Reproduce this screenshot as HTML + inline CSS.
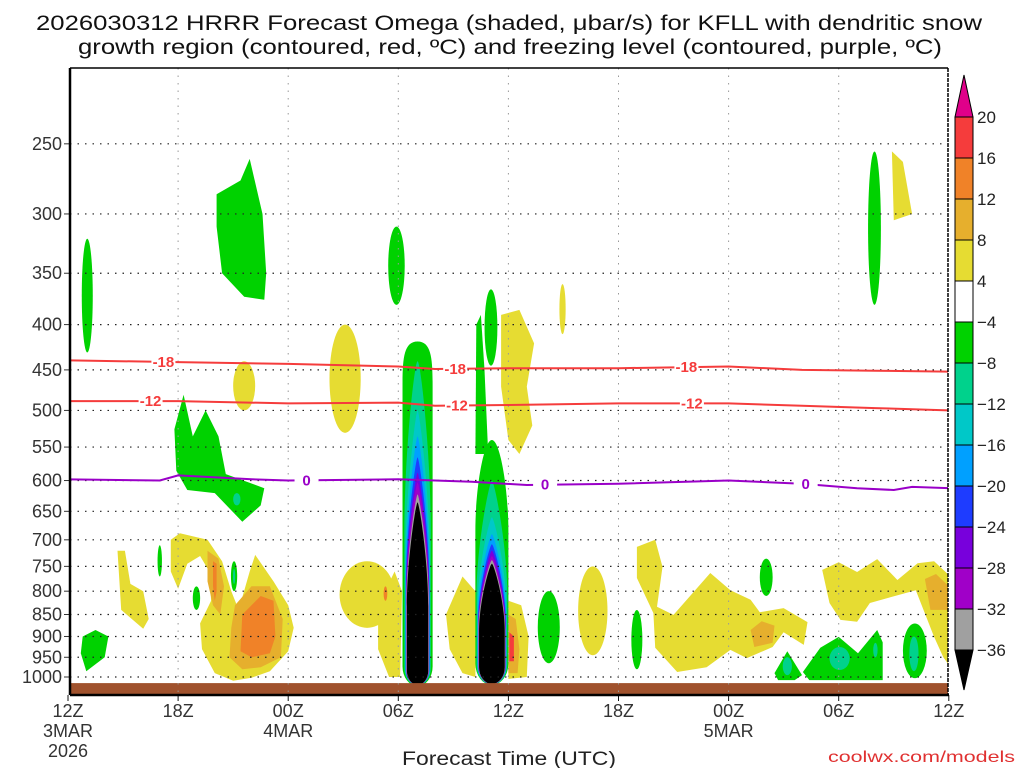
<!DOCTYPE html>
<html><head><meta charset="utf-8"><style>
body{margin:0;background:#fff;}
svg{display:block;font-family:"Liberation Sans",sans-serif;}
</style></head><body>
<svg id="chart" width="1024" height="768" viewBox="0 0 1024 768">
<text x="509" y="30" text-anchor="middle" font-size="21" fill="#111" textLength="946" lengthAdjust="spacingAndGlyphs">2026030312 HRRR Forecast Omega (shaded, μbar/s) for KFLL with dendritic snow</text>
<text x="510" y="54" text-anchor="middle" font-size="21" fill="#111" textLength="864" lengthAdjust="spacingAndGlyphs">growth region (contoured, red, ºC) and freezing level (contoured, purple, ºC)</text>
<g id="fields"></g>
<g id="grid"></g>
<g id="contours"></g>
<g id="axes"></g>
<g id="cbar"></g>
<text x="509" y="765" text-anchor="middle" font-size="19" fill="#222" textLength="214" lengthAdjust="spacingAndGlyphs">Forecast Time (UTC)</text>
<text x="1015" y="762" text-anchor="end" font-size="16" fill="#e03030" textLength="187" lengthAdjust="spacingAndGlyphs">coolwx.com/models</text>
</svg>
<script>
// ---- data ----
const pressureTicks=[250,300,350,400,450,500,550,600,650,700,750,800,850,900,950,1000];
const timeTicks=[0,6,12,18,24,30,36,42,48];
const timeLabels=["12Z","18Z","00Z","06Z","12Z","18Z","00Z","06Z","12Z"];
const dateLabels={0:["3MAR","2026"],12:["4MAR"],36:["5MAR"]};
const cbarLevels=["20","16","12","8","4","−4","−8","−12","−16","−20","−24","−28","−32","−36"];
const cbarColors=["#f53c3c","#f08228","#e6af2d","#e6dc32","#ffffff","#00d200","#00d28c","#00c8c8","#00a0ff","#1e3cff","#7800dc","#a000c8","#a0a0a0"];
const levelColor={y:"#e6dc32",g:"#e6af2d",o:"#f08228",r:"#f53c3c",G:"#00d200",T:"#00d28c",C:"#00c8c8",S:"#00a0ff",B:"#1e3cff",P:"#7800dc",V:"#a000c8",A:"#a0a0a0",K:"#000000"};
// contour lines: [hour, pressure]
const iso18=[[0,439],[6,441],[12,443],[18,446],[20,449],[24,448],[30,448],[36,446],[40,450],[44,451],[48,452]];
const iso12=[[0,488],[6,488],[12,491],[18,490],[20,494],[24,493],[30,491],[36,491],[40,494],[44,497],[48,500]];
const iso0=[[0,598],[5,600],[6,592],[10,598],[12,600],[18,598],[22,602],[25,607],[30,605],[36,600],[40,605],[43,612],[45,615],[46,610],[48,612]];
const label18=[5.2,21.1,33.7], label12=[4.5,21.2,34.0], label0=[13,26,40.2];
// ellipse blobs: [level, centerHour, topP, botP, halfWidthHours]
const ellipses=[
["G",1.05,320,430,0.3],["G",17.9,310,380,0.45],["y",15.1,400,530,0.85],["y",9.6,440,500,0.6],
["y",26.95,360,410,0.17],["G",23.05,365,445,0.35],["G",43.95,255,380,0.35],
["G",5.0,710,770,0.12],["G",7.0,790,840,0.2],["G",9.05,740,800,0.17],["T",9.05,755,785,0.06],
["G",26.2,800,965,0.6],["y",28.6,750,945,0.8],["G",31.0,840,980,0.3],["G",38.05,735,810,0.35],
["G",46.15,870,1003,0.65],["T",46.1,900,985,0.25],["y",16.3,740,880,1.5],["o",17.3,790,820,0.1],
["T",39.2,950,995,0.25],["T",42.05,925,982,0.55],["T",44.0,915,950,0.12],["G",9.2,610,650,0.5],["T",9.2,620,640,0.2]
];
// polygon blobs: [level, [[hour,p],...]]
const polys=[
["y",[[23.6,390],[24.6,385],[25.4,420],[25.0,470],[25.3,520],[24.6,560],[24.0,540],[23.6,470]]],
["y",[[44.9,255],[45.5,262],[46.0,300],[45.0,305]]],
["G",[[8.1,285],[9.4,275],[9.9,260],[10.6,300],[10.8,350],[10.7,375],[9.6,372],[8.4,350],[8.1,310]]],
["G",[[5.8,525],[6.3,480],[6.8,535],[7.5,500],[8.2,535],[8.6,590],[10.7,612],[10.5,640],[9.5,668],[8.0,620],[6.5,615],[5.9,585]]],
["y",[[2.7,720],[3.1,720],[3.4,785],[4.1,800],[4.4,860],[4.1,882],[2.9,840]]],
["G",[[0.8,900],[1.5,885],[2.2,900],[2.0,950],[1.0,985],[0.7,940]]],
["y",[[5.6,700],[6.1,688],[7.6,700],[8.4,740],[8.9,800],[9.3,840],[9.9,760],[10.2,728],[11.2,780],[12,830],[12.3,880],[12,935],[11,985],[10,1002],[9,1010],[8,990],[7.3,930],[7.2,870],[7.8,820],[7.7,760],[7.2,730],[6.5,745],[6.0,795],[5.6,760]]],
["g",[[7.6,720],[8.2,735],[8.5,790],[8.3,850],[7.9,830],[7.6,780]]],
["g",[[9.1,830],[10.0,790],[11.0,790],[11.7,860],[11.6,950],[10.5,975],[9.5,980],[8.8,950],[8.9,880]]],
["o",[[7.9,740],[8.1,745],[8.1,800],[8.0,820],[7.9,790]]],
["o",[[9.5,850],[10.5,810],[11.2,820],[11.3,900],[11.0,940],[10.0,950],[9.4,935]]],
["y",[[16.9,830],[17.8,760],[18.2,800],[18.1,1000],[17.5,1000],[16.9,930]]],
["y",[[20.6,850],[21.5,770],[22.2,800],[22.2,1000],[21.5,990],[20.8,930]]],
["y",[[24.0,820],[24.7,830],[25.1,900],[25.0,1000],[24.0,1005]]],
["g",[[24.0,850],[24.4,860],[24.6,930],[24.5,990],[24.0,990]]],
["r",[[24.05,890],[24.3,900],[24.3,960],[24.05,960]]],
["y",[[31,713],[32,700],[32.4,751],[32.1,833],[33,851],[35,763],[36.1,798],[37.2,818],[37.7,845],[39,836],[40.3,867],[40.1,920],[39,890],[38.4,925],[37,952],[36.1,932],[34.8,975],[33.2,987],[32,927],[31.9,847],[31,773]]],
["g",[[37.2,885],[37.8,865],[38.5,875],[38.4,915],[37.4,925]]],
["G",[[38.5,990],[39.2,935],[40.0,995],[39.6,1008],[38.7,1008]]],
["G",[[40.05,987],[41,927],[42,901],[43.05,940],[44.1,885],[44.4,914],[44.4,1008],[40.4,1008]]],
["y",[[41.1,757],[42,742],[43,761],[44.1,736],[45.2,777],[46.3,744],[47.2,740],[48,767],[48,969],[47.7,950],[47.2,901],[46.2,798],[43.7,825],[43,866],[42.1,862],[41.5,825]]],
["g",[[46.7,775],[47.3,765],[48,790],[48,840],[47.0,840]]],
["G",[[22.2,560],[22.25,400],[22.5,390],[22.7,450],[22.9,560]]]
];
// column layers: [level, halfWidthHours, topP, topShape(0 round..1 pointed)]
const col1Center=19.05, col1Bottom=1012;
const col1=[["G",0.82,418,0.1],["T",0.72,440,0.9],["C",0.68,500,1],["S",0.66,535,1],["B",0.64,565,1],["P",0.63,588,1],["V",0.62,603,1],["A",0.61,622,1],["K",0.58,635,1]];
const col2Center=23.1, col2Bottom=1008;
const col2=[["G",0.9,540,0.6],["T",0.84,600,1],["C",0.8,660,1],["S",0.78,690,1],["B",0.76,708,1],["P",0.75,720,1],["V",0.74,730,1],["A",0.73,738,1],["K",0.7,745,1]];

// ---- scales ----
const X0=68, XW=880.8, L=70, R=948, T=68, Bt=695;
function x(h){return X0+h*XW/48;}
function y(p){return 677-(Math.log(1000)-Math.log(p))*384.6;}
const NS="http://www.w3.org/2000/svg";
function mk(tag,attrs,parent){const e=document.createElementNS(NS,tag);for(const k in attrs)e.setAttribute(k,attrs[k]);parent.appendChild(e);return e;}
const F=document.getElementById('fields'),Gd=document.getElementById('grid'),C=document.getElementById('contours'),A=document.getElementById('axes'),CB=document.getElementById('cbar');

const defs=mk('defs',{},document.getElementById('chart'));
const cp=mk('clipPath',{id:'pc'},defs);mk('rect',{x:L,y:T,width:R-L,height:Bt-T},cp);
F.setAttribute('clip-path','url(#pc)');C.setAttribute('clip-path','url(#pc)');

polys.forEach(b=>{
 const el=mk('polygon',{points:b[1].map(q=>x(q[0]).toFixed(1)+','+y(q[1]).toFixed(1)).join(' '),fill:levelColor[b[0]]},F);
 
 
});
ellipses.forEach(b=>{
 const yt=y(b[2]),yb=y(b[3]);
 const el=mk('ellipse',{cx:x(b[1]),cy:(yt+yb)/2,rx:b[4]*XW/48,ry:(yb-yt)/2,fill:levelColor[b[0]]},F);
 
 
});
function column(center,bottom,layers){
 const cx=x(center),yb=y(bottom);
 layers.forEach(l=>{
  const w=l[1]*XW/48,yt=y(l[2]),H=yb-yt;
  const f=l[3];
  const a=1-0.85*f, b=0.02+0.3*f, c=0.08+0.5*f;
  const d=`M${cx},${yt} C${cx+w*a},${yt} ${cx+w},${yt+b*H} ${cx+w},${yt+c*H} L${cx+w},${yb-w} A${w},${w*1.3} 0 0 1 ${cx-w},${yb-w} L${cx-w},${yt+c*H} C${cx-w},${yt+b*H} ${cx-w*a},${yt} ${cx},${yt} Z`;
  const el=mk('path',{d:d,fill:levelColor[l[0]]},F);
  
  
 });
}
column(col1Center,col1Bottom,col1);
column(col2Center,col2Bottom,col2);
const gr=mk('rect',{x:L,y:y(1016),width:R-L,height:Bt-y(1016),fill:'#a0522d'},F);



pressureTicks.forEach(p=>{
 const l=mk('line',{x1:L,x2:R,y1:y(p),y2:y(p),stroke:'#222','stroke-width':1.2,'stroke-dasharray':'1.5 6'},Gd);
 
 
 const t=mk('text',{x:62,y:y(p)+6,'text-anchor':'end','font-size':18,fill:'#333'},A);t.textContent=p;
 
 
 mk('line',{x1:64,x2:L,y1:y(p),y2:y(p),stroke:'#333'},A);
});
timeTicks.forEach((h,i)=>{
 if(i>0&&i<timeTicks.length-1){const l=mk('line',{x1:x(h),x2:x(h),y1:T,y2:Bt,stroke:'#999','stroke-width':1,'stroke-dasharray':'1.5 6'},Gd);
 
 }
 mk('line',{x1:x(h),x2:x(h),y1:Bt,y2:Bt+6,stroke:'#111'},A);
 const t=mk('text',{x:x(h),y:717,'text-anchor':'middle','font-size':18,fill:'#333'},A);t.textContent=timeLabels[i];
 
 
 (dateLabels[h]||[]).forEach((s,j)=>{const d=mk('text',{x:x(h),y:737+j*20,'text-anchor':'middle','font-size':18,fill:'#333'},A);d.textContent=s;
 
 });
});

function line(data,color,labels,txt,name){
 const pl=mk('polyline',{points:data.map(q=>x(q[0]).toFixed(1)+','+y(q[1]).toFixed(1)).join(' '),fill:'none',stroke:color,'stroke-width':2},C);
 
 
 labels.forEach(h=>{
  let p=data[0][1];for(let i=0;i<data.length-1;i++){if(h>=data[i][0]&&h<=data[i+1][0]){const f=(h-data[i][0])/(data[i+1][0]-data[i][0]);p=data[i][1]+f*(data[i+1][1]-data[i][1]);}}
  mk('rect',{x:x(h)-12,y:y(p)-7,width:24,height:14,fill:'#fff'},C);
  const t=mk('text',{x:x(h),y:y(p)+5,'text-anchor':'middle','font-size':15,'font-weight':'bold',fill:color},C);t.textContent=txt;
  
  
 });
}
line(iso18,'#f53c3c',label18,'-18','dgz-top-contour');
line(iso12,'#f53c3c',label12,'-12','dgz-bottom-contour');
line(iso0,'#9a00c8',label0,'0','freezing-level-contour');

mk('line',{x1:L,x2:L,y1:T,y2:Bt,stroke:'#000','stroke-width':2.5},A);
mk('line',{x1:L,x2:R+1,y1:Bt,y2:Bt,stroke:'#000','stroke-width':2.5},A);
mk('line',{x1:L,x2:R,y1:T,y2:T,stroke:'#000','stroke-width':1.5},A);
mk('line',{x1:R,x2:R,y1:T,y2:Bt,stroke:'#000','stroke-width':1.5,'stroke-dasharray':'4 1'},A);

const cx0=955,cw=18,ctop=117,ch=41;
const up=mk('polygon',{points:`${cx0},${ctop} ${cx0+cw},${ctop} ${cx0+cw/2},75`,fill:'#e0008a',stroke:'#000'},CB);


cbarColors.forEach((c,i)=>{const r=mk('rect',{x:cx0,y:ctop+i*ch,width:cw,height:ch,fill:c,stroke:'#000'},CB);
 
 });
const dn=mk('polygon',{points:`${cx0},${ctop+13*ch} ${cx0+cw},${ctop+13*ch} ${cx0+cw/2},690`,fill:'#000',stroke:'#000'},CB);


cbarLevels.forEach((s,i)=>{const t=mk('text',{x:977,y:ctop+i*ch+6,'font-size':17,fill:'#222'},CB);t.textContent=s;
 
 });
</script>
</body></html>
